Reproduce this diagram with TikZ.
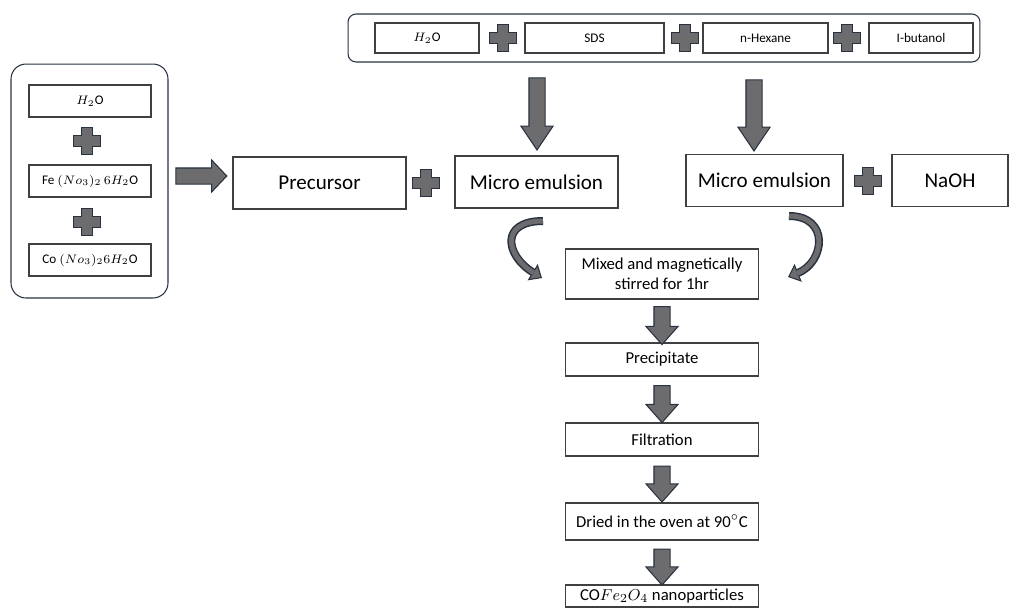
\documentclass[tikz,border=0pt]{standalone}
\usepackage{fontspec}
\setmainfont{Carlito}
\usetikzlibrary{shapes.arrows,arrows.meta,calc}

\definecolor{boxline}{RGB}{64,64,64}
\definecolor{arrowfill}{RGB}{108,108,110}
\definecolor{arrowline}{RGB}{40,50,65}

\tikzset{
  box/.style={draw=boxline, line width=0.6pt, inner sep=1pt, align=center},
  smallbox/.style={box, font=\fontsize{7.5}{9}\selectfont},
  bigbox/.style={box, font=\fontsize{12}{14}\selectfont, minimum height=1.04cm},
  flowbox/.style={box, font=\fontsize{9.5}{11.5}\selectfont, minimum width=3.86cm},
  group/.style={draw=arrowline, line width=0.6pt},
  plusmark/.style={fill=arrowfill, draw=arrowline, line width=0.6pt},
  fatarrow/.style={single arrow, fill=arrowfill, draw=arrowline, line width=0.6pt,
    inner xsep=0pt, inner ysep=0.15cm, minimum width=0.62cm, single arrow head extend=0.16cm},
  curvebase/.style={draw=arrowline, line width=0.16cm},
  curvetop/.style={draw=arrowfill, line width=0.1cm}
}

\begin{document}
\begin{tikzpicture}[x=0.02cm, y=-0.02cm]
 \useasboundingbox (0,0) rectangle (1010,609);

 % surfactant mixture on top
 \node[group, rounded corners=0.16cm, minimum width=12.64cm, minimum height=0.96cm] (topgroup) at (664,38) {};
 \node[smallbox, minimum width=2.08cm, minimum height=0.6cm] (topwater) at (427,38) {$H_2$O};
 \node[smallbox, minimum width=2.78cm, minimum height=0.6cm] (sds) at (594.5,38) {SDS};
 \node[smallbox, minimum width=2.5cm, minimum height=0.6cm] (hexane) at (765.5,38) {n-Hexane};
 \node[smallbox, minimum width=2.08cm, minimum height=0.6cm] (butanol) at (921,38) {I-butanol};

 % salts on the left
 \node[group, rounded corners=0.3cm, minimum width=3.14cm, minimum height=4.68cm] (leftgroup) at (89.5,181) {};
 \node[smallbox, minimum width=2.44cm, minimum height=0.64cm] (water) at (90,101) {$H_2$O};
 \node[smallbox, minimum width=2.44cm, minimum height=0.64cm] (iron) at (90,181) {Fe $(No_3)_2\,6H_2$O};
 \node[smallbox, minimum width=2.44cm, minimum height=0.64cm] (cobalt) at (90,260) {Co $(No_3)_2 6H_2$O};

 % middle row
 \node[bigbox, minimum width=3.46cm] (precursor) at (319.5,183) {Precursor};
 \node[bigbox, minimum width=3.26cm] (micro1) at (536.5,182) {Micro emulsion};
 \node[bigbox, minimum width=3.14cm] (micro2) at (764.5,180.5) {Micro emulsion};
 \node[bigbox, minimum width=2.32cm] (naoh) at (950,180.5) {NaOH};

 % process steps
 \node[flowbox, minimum height=1.0cm] (mixed) at (662,274) {Mixed and magnetically\\stirred for 1hr};
 \node[flowbox, minimum height=0.66cm] (precip) at (662,359.5) {Precipitate};
 \node[flowbox, minimum height=0.66cm] (filtr) at (662,439.5) {Filtration};
 \node[flowbox, minimum height=0.74cm] (dried) at (662,521.5) {Dried in the oven at 90$^{\circ}$C};
 \node[flowbox, minimum height=0.44cm] (product) at (662,596) {CO$Fe_2O_4$ nanoparticles};

 % plus signs
 \foreach \px/\py in {503/38, 685/38, 847/38, 426/183, 868/181, 87/141, 87/222}
  \draw[plusmark] (\px-5.5,\py-13.5) -- ++(11,0) -- ++(0,8) -- ++(8,0) -- ++(0,11)
   -- ++(-8,0) -- ++(0,8) -- ++(-11,0) -- ++(0,-8) -- ++(-8,0) -- ++(0,-11) -- ++(8,0) -- cycle;

 % block arrows
 \node[fatarrow, rotate=-90, minimum height=1.44cm, single arrow tip angle=68] (down1) at (537,108) {};
 \node[fatarrow, rotate=-90, minimum height=1.42cm, single arrow tip angle=68] (down2) at (754,109.5) {};
 \node[fatarrow, minimum height=1.02cm, single arrow tip angle=93] (right1) at (197.5,176) {};
 \node[fatarrow, rotate=-90, minimum height=0.76cm, single arrow tip angle=83] (step1) at ($(mixed.south)!0.5!(precip.north)$) {};
 \node[fatarrow, rotate=-90, minimum height=0.74cm, single arrow tip angle=83] (step2) at ($(precip.south)!0.5!(filtr.north)$) {};
 \node[fatarrow, rotate=-90, minimum height=0.72cm, single arrow tip angle=83] (step3) at ($(filtr.south)!0.5!(dried.north)$) {};
 \node[fatarrow, rotate=-90, minimum height=0.72cm, single arrow tip angle=83] (step4) at ($(dried.south)!0.5!(product.north)$) {};

 % curved arrows into the mixing step
 \coordinate (c1s) at (543,221);
 \coordinate (c1e) at (542,278);
 \coordinate (c2s) at (789,216);
 \coordinate (c2e) at (788,277);
 \draw[curvebase, -{Triangle[length=0.22cm, width=0.38cm, line width=0.6pt, fill=arrowfill]}]
   (c1s) .. controls (500,221) and (505,255) .. (c1e);
 \draw[curvetop, shorten >=0.2cm] (c1s) .. controls (500,221) and (505,255) .. (c1e);
 \draw[curvebase, -{Triangle[length=0.22cm, width=0.38cm, line width=0.6pt, fill=arrowfill]}]
   (c2s) .. controls (830,216) and (825,262) .. (c2e);
 \draw[curvetop, shorten >=0.2cm] (c2s) .. controls (830,216) and (825,262) .. (c2e);
\end{tikzpicture}
\end{document}
